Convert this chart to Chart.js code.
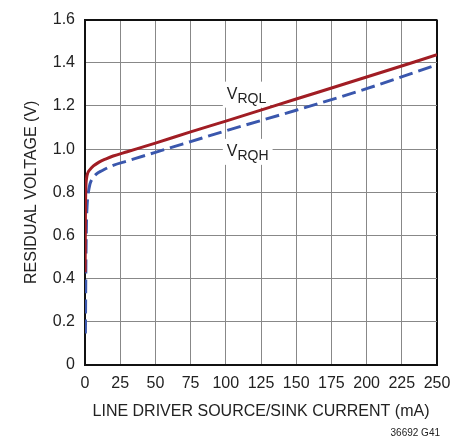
<!DOCTYPE html>
<html>
<head>
<meta charset="utf-8">
<script src="https://cdn.jsdelivr.net/npm/chart.js@4/dist/chart.umd.min.js"></script>
<style>
  body { margin: 0; background: #fff; }
  #wrap { width: 471px; height: 440px; }
</style>
</head>
<body>
<div id="wrap"><canvas id="myChart" width="471" height="440"></canvas></div>
<script>
// residual voltage vs line driver current
var rqlCurrent = [0.1, 0.3, 0.6, 1, 2, 3.5, 6, 10, 15, 20, 30, 50, 75, 100, 150, 200, 250];
var rqlVolts = [0.43, 0.70, 0.82, 0.86, 0.89, 0.905, 0.922, 0.94, 0.955, 0.968, 0.988, 1.028, 1.08, 1.13, 1.232, 1.334, 1.437];
var rqhCurrent = [0.3, 0.6, 1, 1.5, 2.2, 3.5, 5, 8, 12, 20, 30, 50, 75, 100, 150, 200, 250];
var rqhVolts = [0.146, 0.45, 0.65, 0.74, 0.79, 0.838, 0.86, 0.884, 0.90, 0.925, 0.945, 0.985, 1.035, 1.085, 1.18, 1.28, 1.391];
var xTicks = [0, 25, 50, 75, 100, 125, 150, 175, 200, 225, 250];
var yTicks = [0, 0.2, 0.4, 0.6, 0.8, 1.0, 1.2, 1.4, 1.6];
// curve names: [main, subscript, current at left edge, voltage at centre]
var curveLabels = [['V', 'RQL', 100, 1.257], ['V', 'RQH', 100, 0.992]];

var FONT = "'Liberation Sans', Arial, sans-serif";
var TXT = '#222';

function pts(xs, ys) {
    var out = [];
    for (var i = 0; i < xs.length; i++) out.push({x: xs[i], y: ys[i]});
    return out;
}

var curveNames = {
    id: 'curveNames',
    beforeDatasetsDraw: function(chart) {
        var ctx = chart.ctx, xs = chart.scales.x, ys = chart.scales.y;
        ctx.save();
        curveLabels.forEach(function(l) {
            var x = xs.getPixelForValue(l[2]) + 1;
            var y = ys.getPixelForValue(l[3]);
            ctx.font = '16px ' + FONT;
            var w1 = ctx.measureText(l[0]).width;
            ctx.font = '14px ' + FONT;
            var w2 = ctx.measureText(l[1]).width;
            ctx.fillStyle = '#fff';
            ctx.fillRect(x - 4, y - 12, w1 + w2 + 8, 26);
            ctx.fillStyle = TXT;
            ctx.textBaseline = 'alphabetic';
            ctx.textAlign = 'left';
            ctx.font = '16px ' + FONT;
            ctx.fillText(l[0], x, y + 5);
            ctx.font = '14px ' + FONT;
            ctx.fillText(l[1], x + w1, y + 9);
        });
        ctx.restore();
    },
    afterDraw: function(chart) {
        var ctx = chart.ctx;
        ctx.save();
        ctx.font = '10px ' + FONT;
        ctx.fillStyle = TXT;
        ctx.textAlign = 'right';
        ctx.textBaseline = 'middle';
        ctx.fillText('36692 G41', chart.chartArea.right + 3, 433);
        ctx.restore();
    }
};

var ctx = document.getElementById('myChart').getContext('2d');
var myChart = new Chart(ctx, {
    type: 'line',
    data: {
        datasets: [{
            label: 'VRQL',
            data: pts(rqlCurrent, rqlVolts),
            borderColor: '#a11d24',
            borderWidth: 3,
            pointRadius: 0,
            cubicInterpolationMode: 'monotone',
            fill: false
        }, {
            label: 'VRQH',
            data: pts(rqhCurrent, rqhVolts),
            borderColor: '#3a57ad',
            borderWidth: 3,
            borderDash: [14, 6],
            pointRadius: 0,
            cubicInterpolationMode: 'monotone',
            fill: false
        }]
    },
    options: {
        responsive: false,
        animation: false,
        layout: { padding: { top: 15, right: 34, left: 0, bottom: 0 } },
        plugins: { legend: { display: false }, tooltip: { enabled: false } },
        scales: {
            x: {
                type: 'linear',
                min: 0,
                max: 250,
                afterFit: function(s) { s.height = 75; },
                afterBuildTicks: function(s) { s.ticks = xTicks.map(function(v) { return {value: v}; }); },
                ticks: { color: TXT, font: { family: FONT, size: 16 }, padding: 9, maxRotation: 0 },
                grid: {
                    drawTicks: false,
                    color: function(c) { return c.tick && c.tick.value === 250 ? '#111' : '#888'; },
                    lineWidth: function(c) { return c.tick && c.tick.value === 250 ? 2 : 1; }
                },
                border: { color: '#111', width: 2 },
                title: {
                    display: true,
                    text: 'LINE DRIVER SOURCE/SINK CURRENT (mA)',
                    color: TXT,
                    font: { family: FONT, size: 16 },
                    padding: { top: 0, bottom: 19 }
                }
            },
            y: {
                min: 0,
                max: 1.6,
                afterFit: function(s) { s.width = 85; },
                afterBuildTicks: function(s) { s.ticks = yTicks.map(function(v) { return {value: v}; }); },
                ticks: {
                    color: TXT,
                    font: { family: FONT, size: 16 },
                    padding: 10,
                    callback: function(v) { return v === 0 ? '0' : v.toFixed(1); }
                },
                grid: {
                    drawTicks: false,
                    color: function(c) { return c.tick && c.tick.value === 1.6 ? '#111' : '#888'; },
                    lineWidth: function(c) { return c.tick && c.tick.value === 1.6 ? 2 : 1; }
                },
                border: { color: '#111', width: 2 },
                title: {
                    display: true,
                    text: 'RESIDUAL VOLTAGE (V)',
                    color: TXT,
                    font: { family: FONT, size: 16 },
                    padding: { top: 22, bottom: 0 }
                }
            }
        }
    },
    plugins: [curveNames]
});
</script>
</body>
</html>
